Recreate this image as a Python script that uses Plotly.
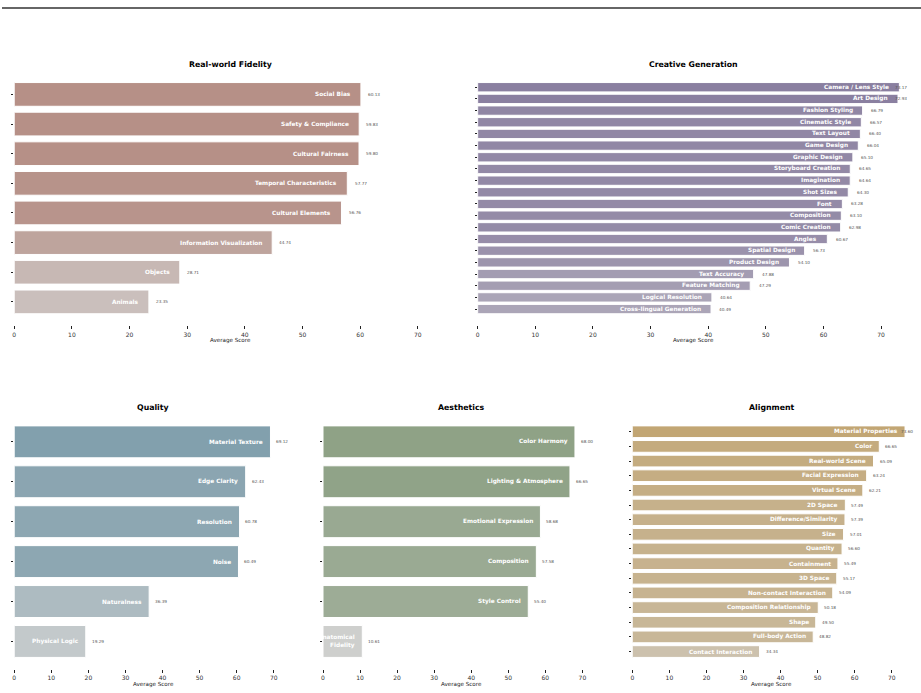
import plotly.graph_objects as go

W, H = 921, 693

# ---------------- data ----------------
rw_labels = ["Social Bias", "Safety & Compliance", "Cultural Fairness", "Temporal Characteristics",
             "Cultural Elements", "Information Visualization", "Objects", "Animals"]
rw_values = [60.13, 59.83, 59.80, 57.77, 56.76, 44.74, 28.71, 23.35]

cg_labels = ["Camera / Lens Style", "Art Design", "Fashion Styling", "Cinematic Style", "Text Layout",
             "Game Design", "Graphic Design", "Storyboard Creation", "Imagination", "Shot Sizes",
             "Font", "Composition", "Comic Creation", "Angles", "Spatial Design", "Product Design",
             "Text Accuracy", "Feature Matching", "Logical Resolution", "Cross-lingual Generation"]
cg_values = [73.17, 72.93, 66.79, 66.57, 66.40, 66.04, 65.10, 64.65, 64.64, 64.30,
             63.28, 63.10, 62.98, 60.67, 56.73, 54.10, 47.88, 47.29, 40.64, 40.49]

q_labels = ["Material Texture", "Edge Clarity", "Resolution", "Noise", "Naturalness", "Physical Logic"]
q_values = [69.12, 62.43, 60.78, 60.49, 36.39, 19.29]

ae_labels = ["Color Harmony", "Lighting & Atmosphere", "Emotional Expression", "Composition",
             "Style Control", "Anatomical<br>Fidelity"]
ae_values = [68.00, 66.65, 58.68, 57.58, 55.40, 10.61]

al_labels = ["Material Properties", "Color", "Real-world Scene", "Facial Expression", "Virtual Scene",
             "2D Space", "Difference/Similarity", "Size", "Quantity", "Containment", "3D Space",
             "Non-contact Interaction", "Composition Relationship", "Shape", "Full-body Action",
             "Contact Interaction"]
al_values = [73.60, 66.65, 65.09, 63.24, 62.21, 57.49, 57.39, 57.01, 56.60, 55.49, 55.17,
             54.09, 50.18, 49.50, 48.82, 34.34]

x_ticks = [0, 10, 20, 30, 40, 50, 60, 70]
x_title = "Average Score"

# ---------------- layout / style ----------------
panels = [
    dict(title="Real-world Fidelity", labels=rw_labels, values=rw_values,
         base=(182, 144, 135), wmax=0.70, x0=12.3, x1=445.6, y0=71.0, y1=325.3),
    dict(title="Creative Generation", labels=cg_labels, values=cg_values,
         base=(138, 127, 160), wmax=0.45, x0=476.7, x1=909.9, y0=71.0, y1=325.3),
    dict(title="Quality", labels=q_labels, values=q_values,
         base=(130, 160, 173), wmax=0.80, x0=12.3, x1=290.9, y0=414.3, y1=669.0),
    dict(title="Aesthetics", labels=ae_labels, values=ae_values,
         base=(143, 162, 134), wmax=0.92, x0=321.7, x1=600.2, y0=414.3, y1=669.0),
    dict(title="Alignment", labels=al_labels, values=al_values,
         base=(194, 166, 116), wmax=0.60, x0=631.7, x1=910.2, y0=414.3, y1=669.0),
]
XMAX = 75
LABEL_CAP = 72.0
GRAY = (211, 211, 211)
FONT = "DejaVu Sans"


def shade(base, v, vmin, vmax, wmax):
    w = wmax * (vmax - v) / (vmax - vmin) if vmax > vmin else 0
    c = [round(b + w * (g - b)) for b, g in zip(base, GRAY)]
    return "rgb(%d,%d,%d)" % tuple(c)


fig = go.Figure()
annotations = []

for k, p in enumerate(panels):
    idx = "" if k == 0 else str(k + 1)
    xa, ya = "x" + idx, "y" + idx
    vals = p["values"]
    n = len(vals)
    pos = list(range(n))
    vmin, vmax = min(vals), max(vals)
    colors = [shade(p["base"], v, vmin, vmax, p["wmax"]) for v in vals]

    fig.add_trace(go.Bar(
        x=vals, y=pos, orientation="h", width=0.8,
        marker=dict(color=colors, line=dict(color="white", width=1)),
        xaxis=xa, yaxis=ya, showlegend=False, hoverinfo="skip",
    ))

    margin = 0.05 * ((n - 1) + 0.8)
    lo, hi = -0.4 - margin, (n - 1) + 0.4 + margin
    xdom = [p["x0"] / W, p["x1"] / W]
    ydom = [1 - p["y1"] / H, 1 - p["y0"] / H]

    fig.layout["xaxis" + idx] = dict(
        domain=xdom, range=[0, XMAX], anchor=ya, tickvals=x_ticks,
        ticks="outside", ticklen=3, tickwidth=1, tickcolor="#222",
        tickfont=dict(size=6, color="#333", family=FONT),
        showgrid=False, zeroline=False, showline=False, fixedrange=True,
    )
    fig.layout["yaxis" + idx] = dict(
        domain=ydom, range=[hi, lo], anchor=xa, tickvals=pos, showticklabels=False,
        ticks="outside", ticklen=2, tickwidth=1, tickcolor="#222",
        showgrid=False, zeroline=False, showline=False, fixedrange=True,
    )

    # inner category labels and value labels
    for i, (lab, v) in enumerate(zip(p["labels"], vals)):
        annotations.append(dict(
            x=v - 1.4, y=i, xref=xa, yref=ya, text=lab, showarrow=False,
            xanchor="right", yanchor="middle", align="right",
            font=dict(size=5.8, color="white", family=FONT, weight="bold"),
        ))
        annotations.append(dict(
            x=min(v + 0.015 * vmax, LABEL_CAP), y=i, xref=xa, yref=ya, text="%.2f" % v,
            showarrow=False, xanchor="left", yanchor="middle",
            font=dict(size=4.2, color="#555", family=FONT),
        ))

    cx = (p["x0"] + p["x1"]) / 2 / W
    annotations.append(dict(
        x=cx, y=1 - (p["y0"] - 7) / H, xref="paper", yref="paper", text="<b>%s</b>" % p["title"],
        showarrow=False, xanchor="center", yanchor="middle",
        font=dict(size=7.8, color="black", family=FONT),
    ))
    annotations.append(dict(
        x=cx, y=1 - (p["y1"] + 15) / H, xref="paper", yref="paper", text=x_title,
        showarrow=False, xanchor="center", yanchor="middle",
        font=dict(size=5.6, color="#222", family=FONT),
    ))

fig.update_layout(
    width=W, height=H, margin=dict(l=0, r=0, t=0, b=0),
    paper_bgcolor="white", plot_bgcolor="white",
    annotations=annotations,
    shapes=[dict(type="line", xref="paper", yref="paper", x0=0, x1=1,
                 y0=1 - 8 / H, y1=1 - 8 / H, line=dict(color="#333", width=1.5))],
    font=dict(family=FONT),
)

fig.write_html("out.html")
